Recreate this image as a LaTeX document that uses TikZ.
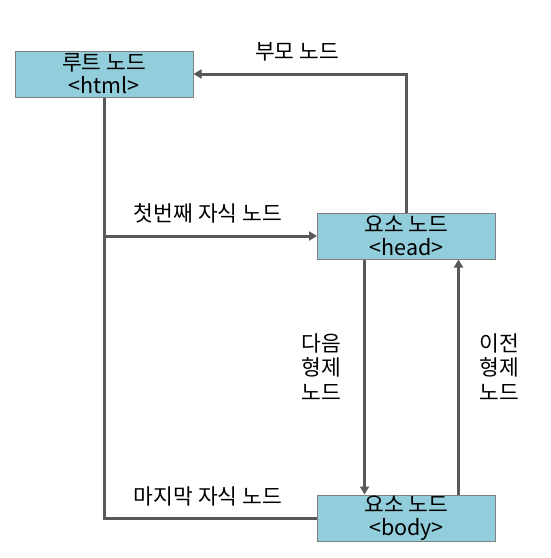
\documentclass[tikz,border=0pt]{standalone}
\usepackage{fontspec}
\setmainfont{Noto Sans CJK KR}
\usetikzlibrary{arrows.meta}
\definecolor{boxblue}{HTML}{92CDDC}
\definecolor{boxline}{HTML}{7F7F7F}
\definecolor{linkgray}{HTML}{595959}

\begin{document}
\begin{tikzpicture}[
            x=1pt, y=-1pt,
            every node/.style={font=\fontsize{21.5}{23}\selectfont},
            elem/.style={
                rectangle,
                draw=boxline,
                line width=1pt,
                fill=boxblue,
                minimum width=178pt,
                minimum height=46pt,
                inner sep=0pt,
                align=center
            },
            link/.style={
                draw=linkgray,
                line width=3pt
            },
            linkarrow/.style={
                link,
                -{Triangle[width=9pt,length=8pt]}
            }
        ]

            \useasboundingbox (0,0) rectangle (550,558);

            \node[elem] (root) at (104, 74) {루트 노드\\\textless html\textgreater};
            \node[elem] (head) at (406.5, 236) {요소 노드\\\textless head\textgreater};
            \node[elem] (body) at (406.5, 518) {요소 노드\\\textless body\textgreater};

            \coordinate (fork) at (104, 236);

            \draw[linkarrow] (head.north) |- (root.east);
            \draw[link] (root.south) |- (body.west);
            \draw[linkarrow] (fork) -- (head.west);

            \draw[linkarrow] ([xshift=-42pt]head.south) -- ([xshift=-42pt]body.north);
            \draw[linkarrow] ([xshift=52pt]body.north) -- ([xshift=52pt]head.south);

            \node (parent) at (297, 52) {부모 노드};
            \node (first) at (208, 213) {첫번째 자식 노드};
            \node (last) at (208, 496) {마지막 자식 노드};
            \node[align=center, font=\fontsize{21.5}{24.5}\selectfont] (next) at (321, 367) {다음\\형제\\노드};
            \node[align=center, font=\fontsize{21.5}{24.5}\selectfont] (prev) at (499, 367) {이전\\형제\\노드};

        \end{tikzpicture}
\end{document}
